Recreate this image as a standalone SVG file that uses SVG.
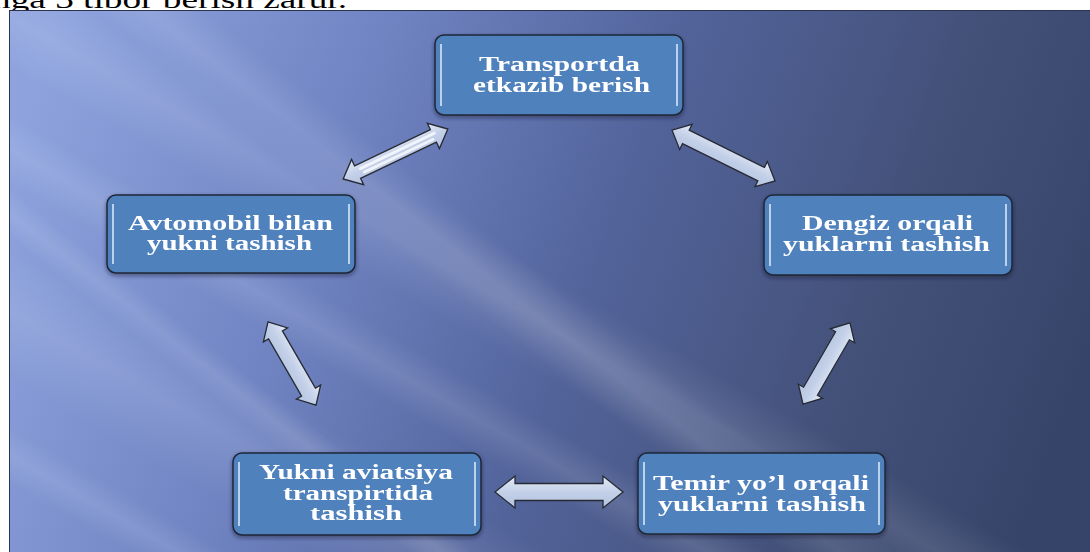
<svg xmlns="http://www.w3.org/2000/svg" width="1090" height="552" viewBox="0 0 1090 552">
<defs>
<linearGradient id="bg" gradientUnits="userSpaceOnUse" x1="40" y1="60" x2="1060" y2="430">
<stop offset="0" stop-color="#8ea3de"/>
<stop offset="0.28" stop-color="#7185c4"/>
<stop offset="0.55" stop-color="#52639a"/>
<stop offset="0.8" stop-color="#435179"/>
<stop offset="1" stop-color="#37446a"/>
</linearGradient>
<linearGradient id="streak" x1="0" y1="0" x2="0" y2="1">
<stop offset="0" stop-color="#ffffff" stop-opacity="0"/>
<stop offset="0.5" stop-color="#ffffff" stop-opacity="0.11"/>
<stop offset="1" stop-color="#ffffff" stop-opacity="0"/>
</linearGradient>
<linearGradient id="arrowFill" x1="0" y1="0" x2="0" y2="1">
<stop offset="0" stop-color="#e4ebf7"/>
<stop offset="0.5" stop-color="#c3d0e8"/>
<stop offset="1" stop-color="#b4c3e0"/>
</linearGradient>
<filter id="sh" x="-10%" y="-10%" width="120%" height="130%">
<feDropShadow dx="0" dy="2" stdDeviation="2" flood-color="#10182a" flood-opacity="0.5"/>
</filter>
</defs>
<style>
.box{fill:#4f81bd;stroke:#1e2838;stroke-width:1.5}
.hl{stroke:#d6e5f7;stroke-width:2;stroke-opacity:0.8}
.t{font-family:"Liberation Serif","Times New Roman",serif;font-weight:bold;font-size:20px;fill:#ffffff;text-anchor:middle}
.arr{fill:url(#arrowFill);stroke:#262a33;stroke-width:1.3;stroke-linejoin:miter}
.shine{stroke:#ffffff;stroke-width:3;stroke-opacity:0.75;stroke-linecap:round;fill:none}
</style>

<rect x="0" y="0" width="1090" height="552" fill="#ffffff"/>
<text x="-8" y="8" font-family="Liberation Serif, serif" font-size="26" fill="#000" textLength="355" lengthAdjust="spacingAndGlyphs">nga 3 tibor berish zarur.</text>

<g id="background">
<rect x="9" y="10" width="1081" height="542" fill="url(#bg)"/>
<svg x="9" y="10" width="1081" height="542" overflow="hidden">
<g transform="rotate(30 0 0)">
<rect x="-200" y="-40" width="1600" height="90" fill="url(#streak)"/>
<rect x="-200" y="90" width="1600" height="60" fill="url(#streak)"/>
<rect x="-200" y="200" width="1600" height="120" fill="url(#streak)"/>
<rect x="-200" y="360" width="1600" height="50" fill="url(#streak)"/>
</g>
<g transform="rotate(38 0 0)">
<rect x="-200" y="-120" width="1600" height="70" fill="url(#streak)"/>
<rect x="-200" y="140" width="1600" height="40" fill="url(#streak)"/>
</g>
</svg>
<line x1="9.5" y1="10" x2="9.5" y2="552" stroke="#2a3450" stroke-width="1"/>
<line x1="9" y1="10.5" x2="1090" y2="10.5" stroke="#2a3450" stroke-width="1"/>
</g>

<g id="connectors">
<g transform="translate(395.5 154) rotate(-25.5)">
<path class="arr" d="M-58,0 L-42,-14 L-42,-7 L42,-7 L42,-14 L58,0 L42,14 L42,7 L-42,7 L-42,14 Z"/>
<line class="shine" x1="-38" y1="-2" x2="44" y2="-2"/>
<line class="shine" x1="-36" y1="3" x2="40" y2="3"/>
</g>
<g transform="translate(723.5 155.5) rotate(26.3)">
<path class="arr" d="M-57.5,0 L-42,-14 L-42,-7.5 L42,-7.5 L42,-14 L57.5,0 L42,14 L42,7.5 L-42,7.5 L-42,14 Z"/>
</g>
<g transform="translate(292 363.5) rotate(60)">
<path class="arr" d="M-48,0 L-33,-14 L-33,-8 L33,-8 L33,-14 L48,0 L33,14 L33,8 L-33,8 L-33,14 Z"/>
</g>
<g transform="translate(826.5 363.5) rotate(120)">
<path class="arr" d="M-47,0 L-32,-14 L-32,-8 L32,-8 L32,-14 L47,0 L32,14 L32,8 L-32,8 L-32,14 Z"/>
</g>
<g transform="translate(559 492)">
<path class="arr" d="M-64,0 L-44,-16 L-44,-8.5 L44,-8.5 L44,-16 L64,0 L44,16 L44,8.5 L-44,8.5 L-44,16 Z"/>
</g>
</g>

<g id="node-top" filter="url(#sh)">
<rect class="box" x="435" y="35" width="248" height="80" rx="9"/>
<line class="hl" x1="441" y1="44" x2="441" y2="106"/>
<line class="hl" x1="677" y1="44" x2="677" y2="106"/>
<text class="t" x="559.5" y="71" textLength="161" lengthAdjust="spacingAndGlyphs">Transportda</text>
<text class="t" x="561.5" y="92" textLength="177" lengthAdjust="spacingAndGlyphs">etkazib berish</text>
</g>

<g id="node-left" filter="url(#sh)">
<rect class="box" x="107" y="195" width="248" height="78" rx="9"/>
<line class="hl" x1="113" y1="204" x2="113" y2="264"/>
<line class="hl" x1="349" y1="204" x2="349" y2="264"/>
<text class="t" x="230.5" y="230" textLength="205" lengthAdjust="spacingAndGlyphs">Avtomobil bilan</text>
<text class="t" x="229.5" y="250" textLength="165" lengthAdjust="spacingAndGlyphs">yukni tashish</text>
</g>

<g id="node-right" filter="url(#sh)">
<rect class="box" x="764" y="195" width="248" height="80" rx="9"/>
<line class="hl" x1="770" y1="204" x2="770" y2="266"/>
<line class="hl" x1="1006" y1="204" x2="1006" y2="266"/>
<text class="t" x="887.5" y="230" textLength="171" lengthAdjust="spacingAndGlyphs">Dengiz orqali</text>
<text class="t" x="886.5" y="251" textLength="207" lengthAdjust="spacingAndGlyphs">yuklarni tashish</text>
</g>

<g id="node-bottom-left" filter="url(#sh)">
<rect class="box" x="233" y="453" width="248" height="82" rx="9"/>
<line class="hl" x1="239" y1="462" x2="239" y2="526"/>
<line class="hl" x1="475" y1="462" x2="475" y2="526"/>
<text class="t" x="356" y="479" textLength="194" lengthAdjust="spacingAndGlyphs">Yukni aviatsiya</text>
<text class="t" x="358" y="500" textLength="150" lengthAdjust="spacingAndGlyphs">transpirtida</text>
<text class="t" x="356" y="520" textLength="92" lengthAdjust="spacingAndGlyphs">tashish</text>
</g>

<g id="node-bottom-right" filter="url(#sh)">
<rect class="box" x="638" y="453" width="247" height="81" rx="9"/>
<line class="hl" x1="644" y1="462" x2="644" y2="525"/>
<line class="hl" x1="879" y1="462" x2="879" y2="525"/>
<text class="t" x="761" y="490" textLength="216" lengthAdjust="spacingAndGlyphs">Temir yo’l orqali</text>
<text class="t" x="762" y="511" textLength="208" lengthAdjust="spacingAndGlyphs">yuklarni tashish</text>
</g>
</svg>
